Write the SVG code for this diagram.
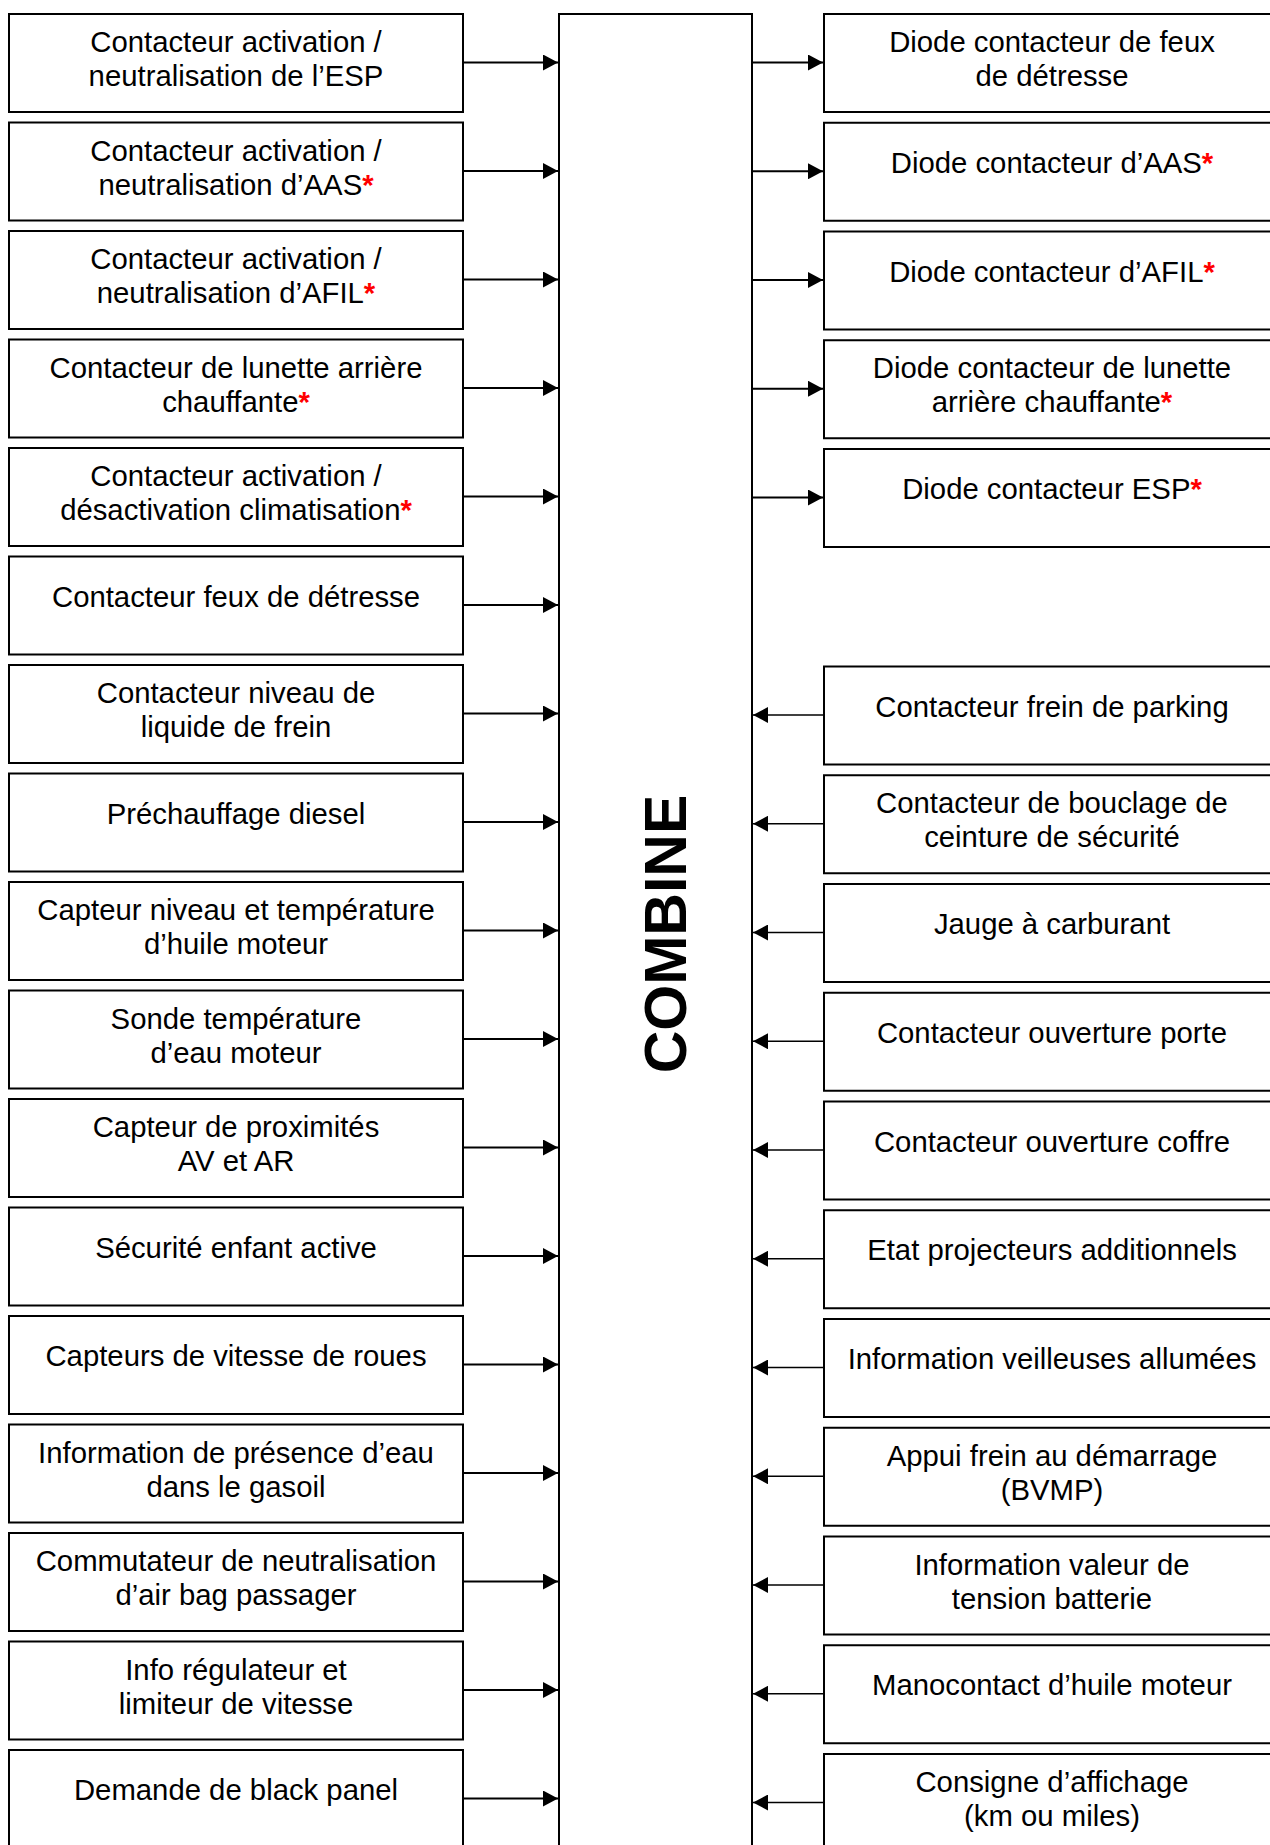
<svg xmlns="http://www.w3.org/2000/svg" width="1270" height="1845" viewBox="0 0 1270 1845">
<defs>
<style>
.box{fill:#fff;stroke:#000;stroke-width:2}
.t{font-family:"Liberation Sans",Arial,sans-serif;font-size:29.3px;fill:#000;text-anchor:middle}
.r{fill:#ff0000;font-weight:bold}
.c{stroke:#000;stroke-width:2;fill:none}
.ci{stroke:#000;stroke-width:1.5;fill:none}
.big{font-family:"Liberation Sans",Arial,sans-serif;font-size:59px;font-weight:bold;fill:#000;text-anchor:middle}
</style>
<marker id="ah" markerUnits="userSpaceOnUse" markerWidth="16" markerHeight="16" refX="15" refY="8" orient="auto">
<path d="M0,0 L15,8 L0,16 z" fill="#000"/>
</marker>
</defs>
<rect width="1270" height="1845" fill="#fff"/>

<g id="combine">
<rect class="box" x="559" y="14" width="193" height="1900"/>
<text class="big" transform="translate(686,934) rotate(-90)" x="0" y="0">COMBINE</text>
</g>

<g id="connectors">
<line class="c" x1="463" y1="62.5" x2="558" y2="62.5" marker-end="url(#ah)"/>
<line class="c" x1="463" y1="171" x2="558" y2="171" marker-end="url(#ah)"/>
<line class="c" x1="463" y1="279.5" x2="558" y2="279.5" marker-end="url(#ah)"/>
<line class="c" x1="463" y1="388" x2="558" y2="388" marker-end="url(#ah)"/>
<line class="c" x1="463" y1="496.5" x2="558" y2="496.5" marker-end="url(#ah)"/>
<line class="c" x1="463" y1="605" x2="558" y2="605" marker-end="url(#ah)"/>
<line class="c" x1="463" y1="713.5" x2="558" y2="713.5" marker-end="url(#ah)"/>
<line class="c" x1="463" y1="822" x2="558" y2="822" marker-end="url(#ah)"/>
<line class="c" x1="463" y1="930.5" x2="558" y2="930.5" marker-end="url(#ah)"/>
<line class="c" x1="463" y1="1039" x2="558" y2="1039" marker-end="url(#ah)"/>
<line class="c" x1="463" y1="1147.5" x2="558" y2="1147.5" marker-end="url(#ah)"/>
<line class="c" x1="463" y1="1256" x2="558" y2="1256" marker-end="url(#ah)"/>
<line class="c" x1="463" y1="1364.5" x2="558" y2="1364.5" marker-end="url(#ah)"/>
<line class="c" x1="463" y1="1473" x2="558" y2="1473" marker-end="url(#ah)"/>
<line class="c" x1="463" y1="1581.5" x2="558" y2="1581.5" marker-end="url(#ah)"/>
<line class="c" x1="463" y1="1690" x2="558" y2="1690" marker-end="url(#ah)"/>
<line class="c" x1="463" y1="1798.5" x2="558" y2="1798.5" marker-end="url(#ah)"/>

<line class="c" x1="752" y1="62.5" x2="823" y2="62.5" marker-end="url(#ah)"/>
<line class="c" x1="752" y1="171.25" x2="823" y2="171.25" marker-end="url(#ah)"/>
<line class="c" x1="752" y1="280" x2="823" y2="280" marker-end="url(#ah)"/>
<line class="c" x1="752" y1="388.75" x2="823" y2="388.75" marker-end="url(#ah)"/>
<line class="c" x1="752" y1="497.5" x2="823" y2="497.5" marker-end="url(#ah)"/>

<line class="ci" x1="824" y1="715" x2="753" y2="715" marker-end="url(#ah)"/>
<line class="ci" x1="824" y1="823.75" x2="753" y2="823.75" marker-end="url(#ah)"/>
<line class="ci" x1="824" y1="932.5" x2="753" y2="932.5" marker-end="url(#ah)"/>
<line class="ci" x1="824" y1="1041.25" x2="753" y2="1041.25" marker-end="url(#ah)"/>
<line class="ci" x1="824" y1="1150" x2="753" y2="1150" marker-end="url(#ah)"/>
<line class="ci" x1="824" y1="1258.75" x2="753" y2="1258.75" marker-end="url(#ah)"/>
<line class="ci" x1="824" y1="1367.5" x2="753" y2="1367.5" marker-end="url(#ah)"/>
<line class="ci" x1="824" y1="1476.25" x2="753" y2="1476.25" marker-end="url(#ah)"/>
<line class="ci" x1="824" y1="1585" x2="753" y2="1585" marker-end="url(#ah)"/>
<line class="ci" x1="824" y1="1693.75" x2="753" y2="1693.75" marker-end="url(#ah)"/>
<line class="ci" x1="824" y1="1802.5" x2="753" y2="1802.5" marker-end="url(#ah)"/>
</g>

<g id="L0" transform="translate(9,14)"><rect class="box" width="454" height="98"/><text class="t" x="227" y="38">Contacteur activation /</text><text class="t" x="227" y="72">neutralisation de l’ESP</text></g>
<g id="L1" transform="translate(9,122.5)"><rect class="box" width="454" height="98"/><text class="t" x="227" y="38">Contacteur activation /</text><text class="t" x="227" y="72">neutralisation d’AAS<tspan class="r">*</tspan></text></g>
<g id="L2" transform="translate(9,231)"><rect class="box" width="454" height="98"/><text class="t" x="227" y="38">Contacteur activation /</text><text class="t" x="227" y="72">neutralisation d’AFIL<tspan class="r">*</tspan></text></g>
<g id="L3" transform="translate(9,339.5)"><rect class="box" width="454" height="98"/><text class="t" x="227" y="38">Contacteur de lunette arrière</text><text class="t" x="227" y="72">chauffante<tspan class="r">*</tspan></text></g>
<g id="L4" transform="translate(9,448)"><rect class="box" width="454" height="98"/><text class="t" x="227" y="38">Contacteur activation /</text><text class="t" x="227" y="72">désactivation climatisation<tspan class="r">*</tspan></text></g>
<g id="L5" transform="translate(9,556.5)"><rect class="box" width="454" height="98"/><text class="t" x="227" y="50">Contacteur feux de détresse</text></g>
<g id="L6" transform="translate(9,665)"><rect class="box" width="454" height="98"/><text class="t" x="227" y="38">Contacteur niveau de</text><text class="t" x="227" y="72">liquide de frein</text></g>
<g id="L7" transform="translate(9,773.5)"><rect class="box" width="454" height="98"/><text class="t" x="227" y="50">Préchauffage diesel</text></g>
<g id="L8" transform="translate(9,882)"><rect class="box" width="454" height="98"/><text class="t" x="227" y="38">Capteur niveau et température</text><text class="t" x="227" y="72">d’huile moteur</text></g>
<g id="L9" transform="translate(9,990.5)"><rect class="box" width="454" height="98"/><text class="t" x="227" y="38">Sonde température</text><text class="t" x="227" y="72">d’eau moteur</text></g>
<g id="L10" transform="translate(9,1099)"><rect class="box" width="454" height="98"/><text class="t" x="227" y="38">Capteur de proximités</text><text class="t" x="227" y="72">AV et AR</text></g>
<g id="L11" transform="translate(9,1207.5)"><rect class="box" width="454" height="98"/><text class="t" x="227" y="50">Sécurité enfant active</text></g>
<g id="L12" transform="translate(9,1316)"><rect class="box" width="454" height="98"/><text class="t" x="227" y="50">Capteurs de vitesse de roues</text></g>
<g id="L13" transform="translate(9,1424.5)"><rect class="box" width="454" height="98"/><text class="t" x="227" y="38">Information de présence d’eau</text><text class="t" x="227" y="72">dans le gasoil</text></g>
<g id="L14" transform="translate(9,1533)"><rect class="box" width="454" height="98"/><text class="t" x="227" y="38">Commutateur de neutralisation</text><text class="t" x="227" y="72">d’air bag passager</text></g>
<g id="L15" transform="translate(9,1641.5)"><rect class="box" width="454" height="98"/><text class="t" x="227" y="38">Info régulateur et</text><text class="t" x="227" y="72">limiteur de vitesse</text></g>
<g id="L16" transform="translate(9,1750)"><rect class="box" width="454" height="98"/><text class="t" x="227" y="50">Demande de black panel</text></g>

<g id="R0" transform="translate(824,14)"><rect class="box" width="470" height="98"/><text class="t" x="228" y="38">Diode contacteur de feux</text><text class="t" x="228" y="72">de détresse</text></g>
<g id="R1" transform="translate(824,122.75)"><rect class="box" width="470" height="98"/><text class="t" x="228" y="50">Diode contacteur d’AAS<tspan class="r">*</tspan></text></g>
<g id="R2" transform="translate(824,231.5)"><rect class="box" width="470" height="98"/><text class="t" x="228" y="50">Diode contacteur d’AFIL<tspan class="r">*</tspan></text></g>
<g id="R3" transform="translate(824,340.25)"><rect class="box" width="470" height="98"/><text class="t" x="228" y="38">Diode contacteur de lunette</text><text class="t" x="228" y="72">arrière chauffante<tspan class="r">*</tspan></text></g>
<g id="R4" transform="translate(824,449)"><rect class="box" width="470" height="98"/><text class="t" x="228" y="50">Diode contacteur ESP<tspan class="r">*</tspan></text></g>
<g id="R6" transform="translate(824,666.5)"><rect class="box" width="470" height="98"/><text class="t" x="228" y="50">Contacteur frein de parking</text></g>
<g id="R7" transform="translate(824,775.25)"><rect class="box" width="470" height="98"/><text class="t" x="228" y="38">Contacteur de bouclage de</text><text class="t" x="228" y="72">ceinture de sécurité</text></g>
<g id="R8" transform="translate(824,884)"><rect class="box" width="470" height="98"/><text class="t" x="228" y="50">Jauge à carburant</text></g>
<g id="R9" transform="translate(824,992.75)"><rect class="box" width="470" height="98"/><text class="t" x="228" y="50">Contacteur ouverture porte</text></g>
<g id="R10" transform="translate(824,1101.5)"><rect class="box" width="470" height="98"/><text class="t" x="228" y="50">Contacteur ouverture coffre</text></g>
<g id="R11" transform="translate(824,1210.25)"><rect class="box" width="470" height="98"/><text class="t" x="228" y="50">Etat projecteurs additionnels</text></g>
<g id="R12" transform="translate(824,1319)"><rect class="box" width="470" height="98"/><text class="t" x="228" y="50">Information veilleuses allumées</text></g>
<g id="R13" transform="translate(824,1427.75)"><rect class="box" width="470" height="98"/><text class="t" x="228" y="38">Appui frein au démarrage</text><text class="t" x="228" y="72">(BVMP)</text></g>
<g id="R14" transform="translate(824,1536.5)"><rect class="box" width="470" height="98"/><text class="t" x="228" y="38">Information valeur de</text><text class="t" x="228" y="72">tension batterie</text></g>
<g id="R15" transform="translate(824,1645.25)"><rect class="box" width="470" height="98"/><text class="t" x="228" y="50">Manocontact d’huile moteur</text></g>
<g id="R16" transform="translate(824,1754)"><rect class="box" width="470" height="98"/><text class="t" x="228" y="38">Consigne d’affichage</text><text class="t" x="228" y="72">(km ou miles)</text></g>
</svg>
